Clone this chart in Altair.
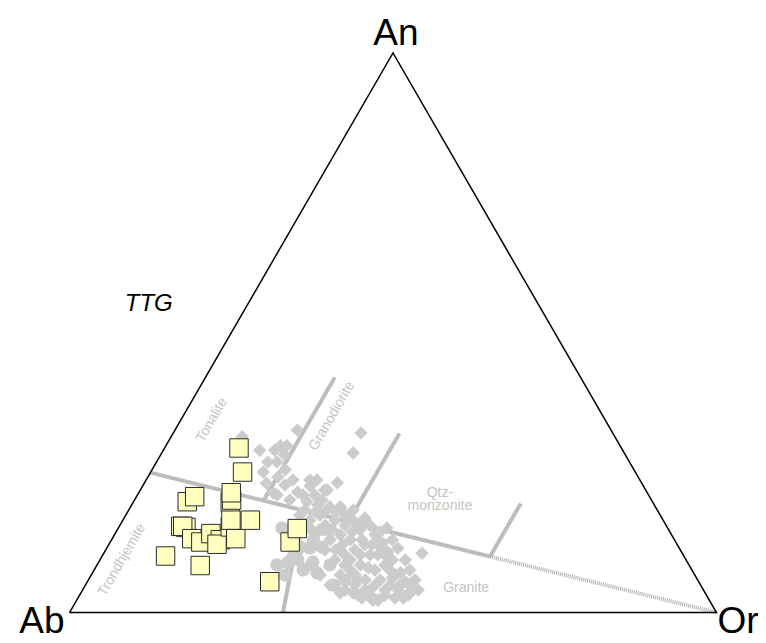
import altair as alt
import pandas as pd
import numpy as np

# ---- data: normative feldspar compositions in % (Ab = 100 - An - Or) ----
# studied samples (yellow squares)
sample_an = [29.4, 25.1, 19.8, 20.7, 19.7, 20.1, 21.4, 15.4, 15.2, 15.4, 13.2, 12.6,
             14.1, 13.0, 12.2, 15.3, 16.5, 13.2, 16.5, 10.1, 8.4, 5.5, 12.6, 15.0]
sample_or = [11.5, 14.2, 8.3, 9.0, 15.0, 15.0, 14.3, 9.5, 10.4, 9.8, 12.3, 14.0,
             14.8, 16.8, 16.7, 17.2, 16.7, 19.1, 19.7, 9.8, 16.0, 28.2, 27.8, 27.7]

# reference granitoids (grey diamonds)
ref_diamond_an = [31.4, 29.0, 25.1, 29.0, 26.9, 24.2, 29.8, 29.8, 28.2, 32.6, 23.7, 23.7,
                  23.7, 22.6, 21.9, 23.2, 28.5, 32.1, 21.4, 21.0, 20.1, 19.8, 20.1, 18.9,
                  18.7, 18.3, 16.9, 15.1, 13.9, 12.4, 10.8, 10.6, 7.1, 5.3, 3.7, 2.6,
                  2.2, 3.5, 5.8, 3.5, 17.4, 16.5, 17.4, 14.8, 13.9, 15.6, 16.5, 15.6,
                  13.0, 13.9, 13.0, 14.8, 11.2, 10.3, 9.4, 11.2, 12.1, 10.3, 8.5, 7.6,
                  6.7, 5.8, 7.6, 8.5, 5.8, 4.9, 6.7, 3.1, 2.6, 4.0, 4.9, 6.7,
                  4.9, 4.0, 8.5, 12.1, 14.8, 19.2, 21.5, 22.8, 9.4, 4.0, 2.2, 2.6,
                  5.5, 4.0, 3.1, 2.8, 16.5, 16.9, 14.4, 12.4, 9.9, 18.9, 21.9, 21.0,
                  21.0, 23.1, 25.5, 26.9,
                  18.3, 18.0, 18.0, 18.0, 17.4, 16.2, 15.6, 14.4, 13.0, 11.5, 9.4, 7.6,
                  5.8, 4.0, 15.6, 15.1, 14.8, 14.8, 12.1, 14.4, 13.0, 12.1, 10.3, 7.6,
                  6.2, 4.9, 3.1, 4.0, 4.9, 4.0, 6.7, 8.5, 11.2, 10.3, 8.0, 9.4,
                  11.2, 11.5]
ref_diamond_or = [11.0, 14.9, 17.4, 17.2, 18.6, 20.1, 17.7, 18.7, 19.1, 18.9, 22.7, 25.3,
                  26.4, 25.9, 28.5, 29.8, 29.6, 29.0, 20.8, 21.6, 24.0, 26.8, 29.0, 30.8,
                  32.5, 34.7, 37.2, 41.5, 40.3, 41.8, 43.8, 49.2, 47.6, 49.5, 50.8, 50.3,
                  45.8, 42.1, 41.7, 40.1, 26.9, 28.9, 30.0, 29.0, 31.0, 31.7, 32.8, 34.8,
                  33.8, 34.9, 36.9, 37.5, 38.5, 37.4, 36.3, 33.9, 39.6, 41.3, 40.7, 39.6,
                  38.5, 42.8, 43.4, 44.5, 45.1, 47.1, 47.0, 47.2, 49.0, 44.4, 41.7, 35.4,
                  37.8, 40.6, 32.9, 29.6, 26.7, 28.8, 24.5, 21.9, 45.2, 48.8, 46.6, 43.9,
                  49.1, 51.1, 43.0, 45.4, 37.4, 34.9, 40.3, 42.2, 44.1, 32.4, 28.9, 25.6,
                  27.4, 18.9, 20.6, 17.2,
                  27.2, 29.0, 30.5, 32.1, 33.9, 36.0, 38.6, 40.8, 43.4, 45.0, 47.2, 48.8,
                  50.5, 51.9, 27.8, 29.6, 31.3, 33.2, 36.1, 36.5, 38.7, 40.7, 42.5, 45.7,
                  46.8, 48.6, 50.8, 46.8, 44.8, 43.7, 40.8, 38.3, 35.5, 39.8, 42.2, 38.7,
                  36.2, 42.5]

# reference granitoids (grey circles)
ref_circle_an = [15.1, 8.5, 9.9, 9.0, 4.9, 11.7, 7.6, 7.1, 13.0, 11.7,
                 8.9, 10.6, 8.5, 13.0, 11.5, 5.8, 9.4, 14.8, 6.7, 15.6]
ref_circle_or = [25.3, 27.8, 29.6, 33.1, 38.4, 33.2, 32.3, 34.7, 31.2, 29.8,
                 29.3, 29.7, 36.0, 27.6, 31.4, 39.7, 30.6, 32.1, 30.0, 28.6]

# field boundaries (Barker 1979), each as (An, Or) end points
boundary_names = ["main", "ton-gd", "gd-qm", "qm-gr", "tr-gr"]
boundary_an = [[25, 10], [20, 42], [16.25, 32], [10, 19.5], [0, 18.3]]
boundary_or = [[0, 60], [20, 20], [35, 35], [60, 60], [33, 26.9]]
dashed_an = [10, 0]
dashed_or = [60, 100]

# field names
field_text = ["Tonalite", "Granodiorite", "Trondhjemite", "Qtz-\nmonzonite", "Granite"]
field_an = [34.4, 35.1, 9.4, 21.3, 4.4]
field_or = [4.8, 23.0, 3.4, 46.6, 59.1]
field_angle = [300, 300, 300, 0, 0]

S3 = np.sqrt(3) / 2


def proj(an, orr):
    an = np.asarray(an, float) / 100.0
    o = np.asarray(orr, float) / 100.0
    return o + an / 2.0, an * S3


W, H = 750, 627
XS = alt.Scale(domain=[-0.09505, 1.06414], nice=False, zero=False)
YS = alt.Scale(domain=[-0.03482, 0.93562], nice=False, zero=False)


def xy(df):
    return dict(x=alt.X("x:Q", scale=XS, axis=None), y=alt.Y("y:Q", scale=YS, axis=None))


# triangle
tx, ty = proj([0, 0, 100, 0], [0, 100, 0, 0])
tri_df = pd.DataFrame({"x": tx, "y": ty, "o": range(4)})
triangle = alt.Chart(tri_df).mark_line(color="black", strokeWidth=1.5).encode(
    order="o:O", **xy(tri_df))

# boundaries
rows = []
for name, a, o in zip(boundary_names, boundary_an, boundary_or):
    bx, by = proj(a, o)
    for i in range(2):
        rows.append({"seg": name, "x": bx[i], "y": by[i], "o": i})
bnd_df = pd.DataFrame(rows)
boundaries = alt.Chart(bnd_df).mark_line(color="#bdbdbd", strokeWidth=4, strokeCap="butt").encode(
    detail="seg:N", order="o:O", **xy(bnd_df))

dx_, dy_ = proj(dashed_an, dashed_or)
dash_df = pd.DataFrame({"x": dx_, "y": dy_, "o": [0, 1]})
dashed = alt.Chart(dash_df).mark_line(color="#b0b0b0", strokeWidth=4, strokeDash=[1, 1],
                                      strokeCap="butt").encode(order="o:O", **xy(dash_df))

# reference points
cx, cy = proj(ref_circle_an, ref_circle_or)
circ_df = pd.DataFrame({"x": cx, "y": cy})
circles = alt.Chart(circ_df).mark_point(shape="circle", filled=True, size=175,
                                        color="#cccccc", opacity=1).encode(**xy(circ_df))

ddx, ddy = proj(ref_diamond_an, ref_diamond_or)
dia_df = pd.DataFrame({"x": ddx, "y": ddy})
diamonds = alt.Chart(dia_df).mark_point(shape="diamond", filled=True, size=180,
                                        color="#cccccc", opacity=1).encode(**xy(dia_df))

# samples
sx, sy = proj(sample_an, sample_or)
smp_df = pd.DataFrame({"x": sx, "y": sy})
samples = alt.Chart(smp_df).mark_point(shape="square", filled=True, size=340, fill="#ffffc0",
                                       stroke="#2a2a2a", strokeWidth=1, opacity=1).encode(**xy(smp_df))

# field labels
fx, fy = proj(field_an, field_or)
fld_df = pd.DataFrame({"x": fx, "y": fy, "t": field_text, "a": field_angle})
fields = alt.Chart(fld_df).mark_text(font="Liberation Sans", fontSize=14, color="#c4c4c4",
                                     align="center", baseline="middle", lineBreak="\n",
                                     lineHeight=13).encode(
    text="t:N", angle=alt.Angle("a:Q", scale=None), **xy(fld_df))

# vertex labels
vx, vy = proj([100, 0, 0], [0, 0, 100])
v_an = pd.DataFrame({"x": [vx[0]], "y": [vy[0]], "t": ["An"]})
v_ab = pd.DataFrame({"x": [vx[1]], "y": [vy[1]], "t": ["Ab"]})
v_or = pd.DataFrame({"x": [vx[2]], "y": [vy[2]], "t": ["Or"]})
big = dict(font="Liberation Sans", fontSize=37, color="black")
lab_an = alt.Chart(v_an).mark_text(align="center", baseline="alphabetic", dx=3, dy=-8, **big).encode(
    text="t:N", **xy(v_an))
lab_ab = alt.Chart(v_ab).mark_text(align="right", baseline="alphabetic", dx=-5, dy=20.5, **big).encode(
    text="t:N", **xy(v_ab))
lab_or = alt.Chart(v_or).mark_text(align="left", baseline="alphabetic", dx=1, dy=20.5, **big).encode(
    text="t:N", **xy(v_or))

# TTG label (upper-left, outside the triangle)
ttg_x, ttg_y = proj([53.9], [-14.7])
ttg_df = pd.DataFrame({"x": ttg_x, "y": ttg_y, "t": ["TTG"]})
ttg = alt.Chart(ttg_df).mark_text(font="Liberation Sans", fontSize=24, fontStyle="italic",
                                  color="black", align="center", baseline="alphabetic").encode(
    text="t:N", **xy(ttg_df))

chart = alt.layer(
    boundaries, dashed, circles, diamonds, samples, triangle, fields,
    lab_an, lab_ab, lab_or, ttg
).properties(
    width=W, height=H, padding=0,
    autosize=alt.AutoSizeParams(type="none"),
    background="white",
).configure_view(stroke=None)

chart.save("out.html", embed_options={"renderer": "svg", "actions": False})
